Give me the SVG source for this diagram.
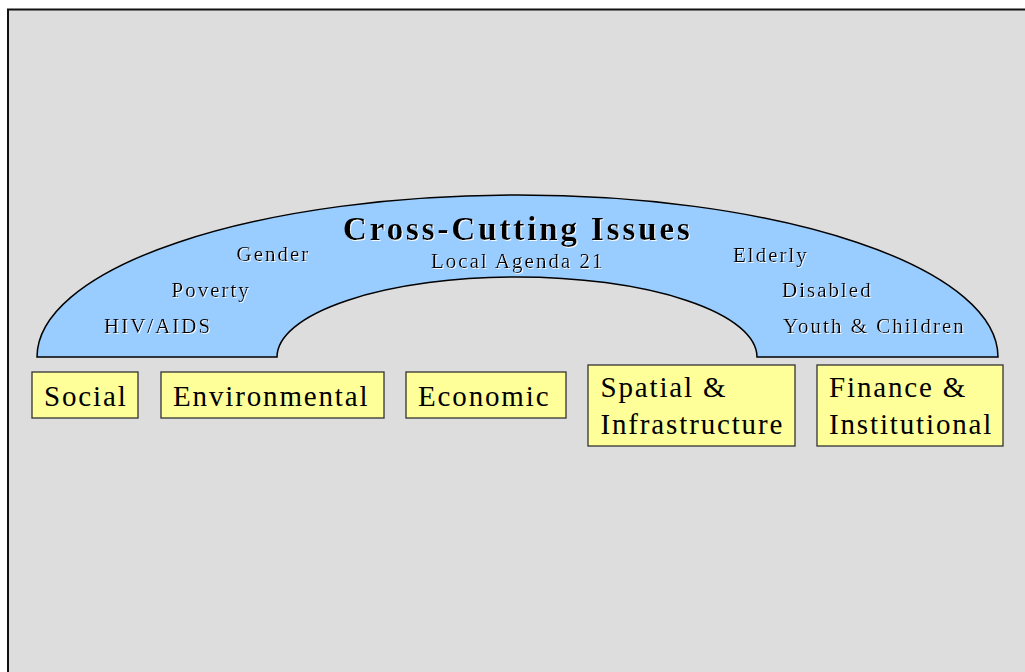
<svg xmlns="http://www.w3.org/2000/svg" width="1025" height="672" viewBox="0 0 1025 672">
  <style>
    .box { fill: #ffff99; stroke: #333333; stroke-width: 1.3; }
    .lbl { font-family: "Liberation Serif", "Times New Roman", serif; font-size: 29px; letter-spacing: 1.85px; fill: #000; }
    .sm { font-family: "Liberation Serif", "Times New Roman", serif; font-size: 21px; letter-spacing: 2px; fill: #000; filter: url(#sh); }
    .title { font-family: "Liberation Serif", "Times New Roman", serif; font-size: 33px; font-weight: bold; letter-spacing: 2.9px; fill: #000; filter: url(#sh); }
  </style>
  <defs>
    <filter id="sh" x="-5%" y="-20%" width="110%" height="140%">
      <feDropShadow dx="1" dy="1" stdDeviation="0.3" flood-color="#ffffff" flood-opacity="0.9"/>
    </filter>
  </defs>
  <rect x="0" y="0" width="1025" height="672" fill="#ffffff"/>
  <rect id="background" x="8" y="9.5" width="1030" height="680" fill="#dddddd" stroke="#111111" stroke-width="2"/>

  <g id="arch">
    <path d="M 37,357 A 480.5 162 0 0 1 998,357 L 757,357 A 240 80 0 0 0 277,357 Z" fill="#99ccff" stroke="#000000" stroke-width="1.5"/>
    <text class="title" x="343" y="240">Cross-Cutting Issues</text>
    <text class="sm" x="431" y="268">Local Agenda 21</text>
    <text class="sm" x="236.5" y="261">Gender</text>
    <text class="sm" x="171.5" y="297">Poverty</text>
    <text class="sm" x="104" y="333">HIV/AIDS</text>
    <text class="sm" x="733" y="261.5">Elderly</text>
    <text class="sm" x="782" y="297">Disabled</text>
    <text class="sm" x="783" y="332.5">Youth &amp; Children</text>
  </g>

  <g id="social">
    <rect class="box" x="32" y="372" width="106" height="46"/>
    <text class="lbl" x="44" y="405.5">Social</text>
  </g>
  <g id="environmental">
    <rect class="box" x="161" y="372" width="223" height="46"/>
    <text class="lbl" x="173" y="405.5">Environmental</text>
  </g>
  <g id="economic">
    <rect class="box" x="406" y="372" width="160" height="46"/>
    <text class="lbl" x="418" y="405.5">Economic</text>
  </g>
  <g id="spatial">
    <rect class="box" x="588" y="365" width="207" height="81"/>
    <text class="lbl" x="600.5" y="397">Spatial &amp;</text>
    <text class="lbl" x="600.5" y="434">Infrastructure</text>
  </g>
  <g id="finance">
    <rect class="box" x="817" y="365" width="186" height="81"/>
    <text class="lbl" x="829" y="397">Finance &amp;</text>
    <text class="lbl" x="829" y="434">Institutional</text>
  </g>

  <g id="connectors"></g>
</svg>
